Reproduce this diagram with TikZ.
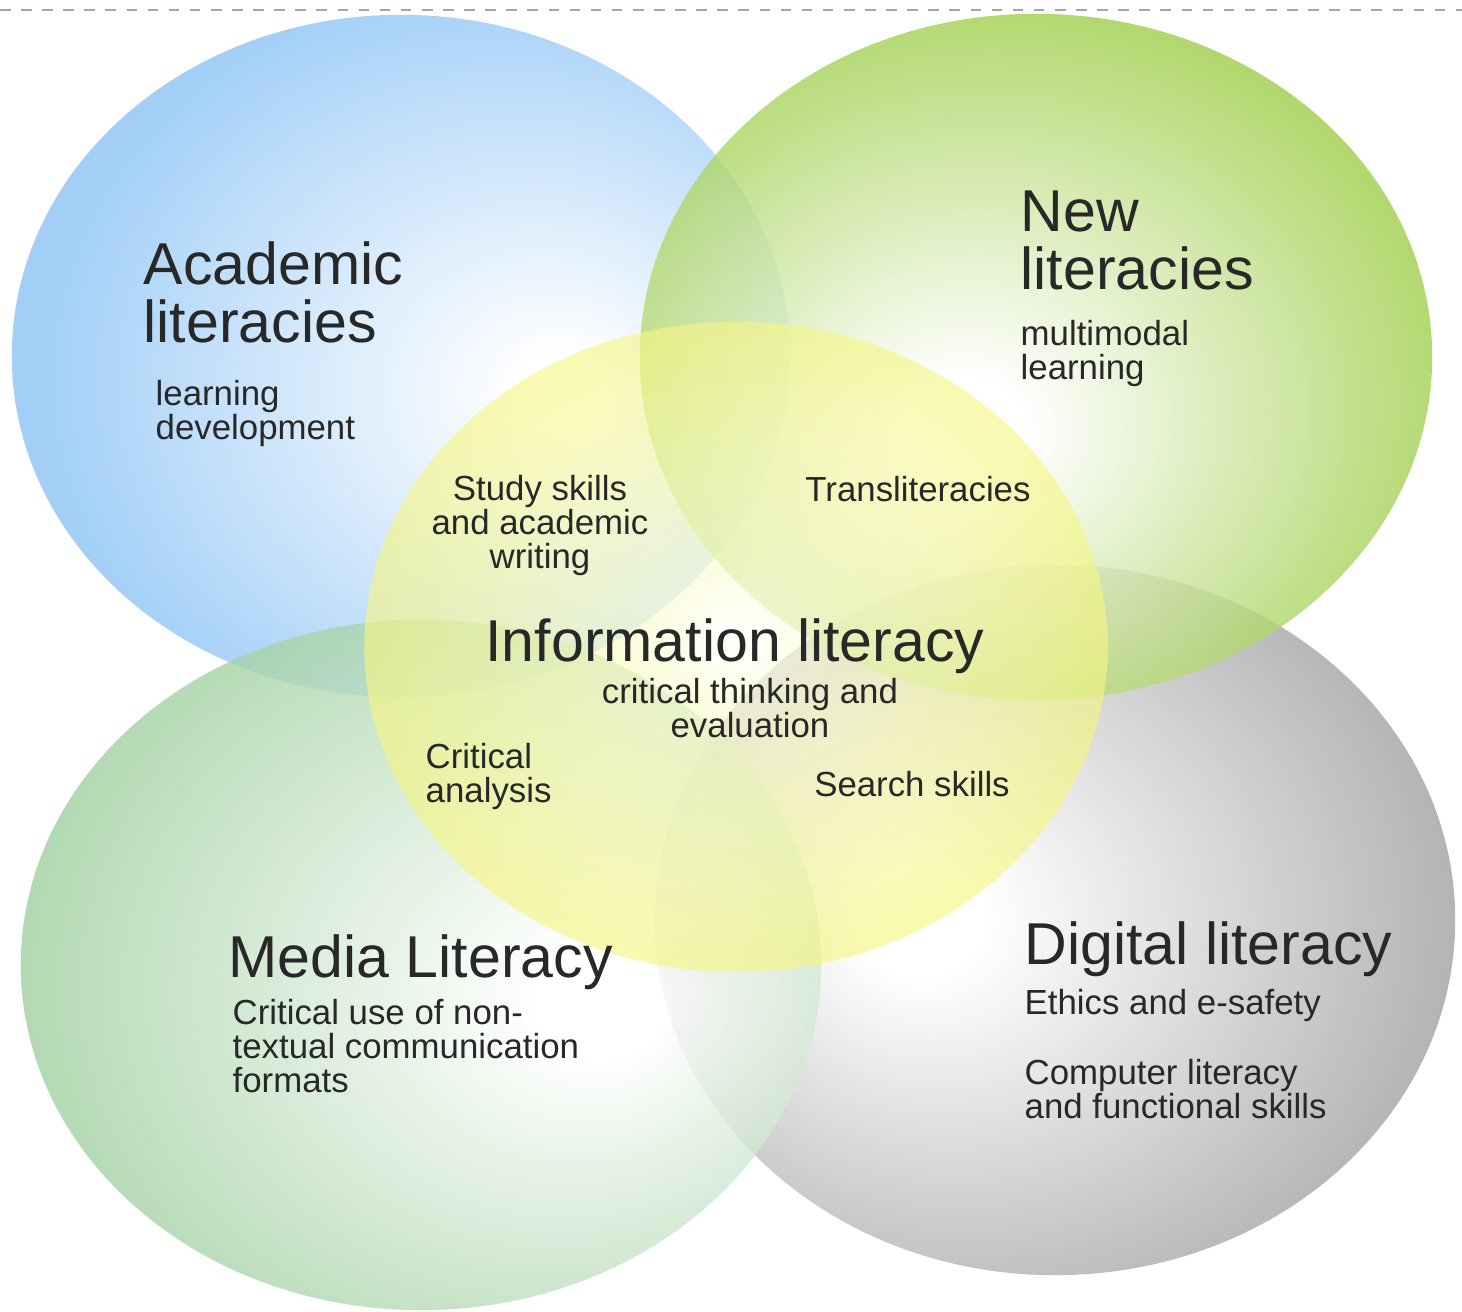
\documentclass[tikz,border=0pt]{standalone}
\usepackage{fontspec}
\setmainfont{Liberation Sans}
\usetikzlibrary{shapes.geometric,positioning}
\definecolor{acadblue}{RGB}{140,196,246}
\definecolor{newgreen}{RGB}{158,206,72}
\definecolor{mediagreen}{RGB}{160,208,160}
\definecolor{diggray}{RGB}{160,160,160}
\definecolor{infoyellow}{RGB}{246,246,128}
\definecolor{txtgray}{RGB}{40,40,40}
\pgfdeclareradialshading{acadshade}{\pgfpoint{11bp}{-3bp}}{color(0bp)=(white); color(3bp)=(white); color(29bp)=(acadblue); color(60bp)=(acadblue)}
\pgfdeclareradialshading{newshade}{\pgfpoint{-5bp}{-6bp}}{color(0bp)=(white); color(4bp)=(white); color(29bp)=(newgreen); color(60bp)=(newgreen)}
\pgfdeclareradialshading{mediashade}{\pgfpoint{12bp}{-3bp}}{color(0bp)=(white); color(4bp)=(white); color(31bp)=(mediagreen); color(60bp)=(mediagreen)}
\pgfdeclareradialshading{digshade}{\pgfpoint{-9bp}{0bp}}{color(0bp)=(white); color(4bp)=(white); color(30bp)=(diggray); color(60bp)=(diggray)}
\pgfdeclareradialshading{infoshade}{\pgfpoint{0bp}{1bp}}{color(0bp)=(white); color(6bp)=(white!60!infoyellow); color(25bp)=(infoyellow); color(60bp)=(infoyellow)}
\tikzset
{
    venn/.style  = {ellipse, draw=none, inner sep=0pt, fill opacity=0.8},
    title/.style = {font=\fontsize{16.8}{16.5}\selectfont, text=txtgray, align=left, inner sep=0pt},
    note/.style  = {font=\fontsize{9.9}{9.8}\selectfont, text=txtgray, align=left, inner sep=0pt}
}

\begin{document}
\begin{tikzpicture}[x=0.01cm, y=0.01cm]
	\fill[white] (0,0) rectangle (1462,1312);
	\useasboundingbox (0,0) rectangle (1462,1312);
	\draw[gray!70, dashed, line width=0.4pt] (0,1302) -- (1462,1302);

	% the five sets
	\node (acad) [venn, shading=acadshade, minimum width=7.78cm, minimum height=6.82cm] at (401,956) {};
	\node (digit) [venn, shading=digshade, minimum width=8cm, minimum height=7.1cm] at (1055,392) {};
	\node (newlit) [venn, shading=newshade, minimum width=7.92cm, minimum height=6.86cm] at (1036,955) {};
	\node (media) [venn, shading=mediashade, minimum width=8cm, minimum height=6.9cm] at (421,347) {};
	\node (info) [venn, shading=infoshade, fill opacity=0.62, minimum width=7.43cm, minimum height=6.5cm] at (736,665) {};

	% labels (multi-line nodes sit on their last line)
	\node (acadT) [title, anchor=base west] at (143,969) {Academic\\literacies};
	\node (acadN) [note, anchor=base west] at (155,872) {learning\\development};
	\node (newT) [title, anchor=base west] at (1020,1022) {New\\literacies};
	\node (newN) [note, anchor=base west] at (1020,932) {multimodal\\learning};
	\node (study) [note, align=center, anchor=base] at (540,743) {Study skills\\and academic\\writing};
	\node (trans) [note, anchor=base] at (918,810) {Transliteracies};
	\node (infoT) [title, anchor=base] at (735,650) {Information literacy};
	\node (infoN) [note, align=center, anchor=base] at (750,574) {critical thinking and\\evaluation};
	\node (crit) [note, anchor=base west] at (425,509) {Critical\\analysis};
	\node (search) [note, anchor=base] at (912,515) {Search skills};
	\node (mediaT) [title, anchor=base west] at (228,334) {Media Literacy};
	\node (mediaN) [note, anchor=base west] at (232,219) {Critical use of non-\\textual communication\\formats};
	\node (digT) [title, anchor=base west] at (1024,347) {Digital literacy};
	\node (digN) [note, anchor=base west] at (1024,297) {Ethics and e-safety};
	\node (digN2) [note, anchor=base west] at (1024,193) {Computer literacy\\and functional skills};
\end{tikzpicture}
\end{document}
